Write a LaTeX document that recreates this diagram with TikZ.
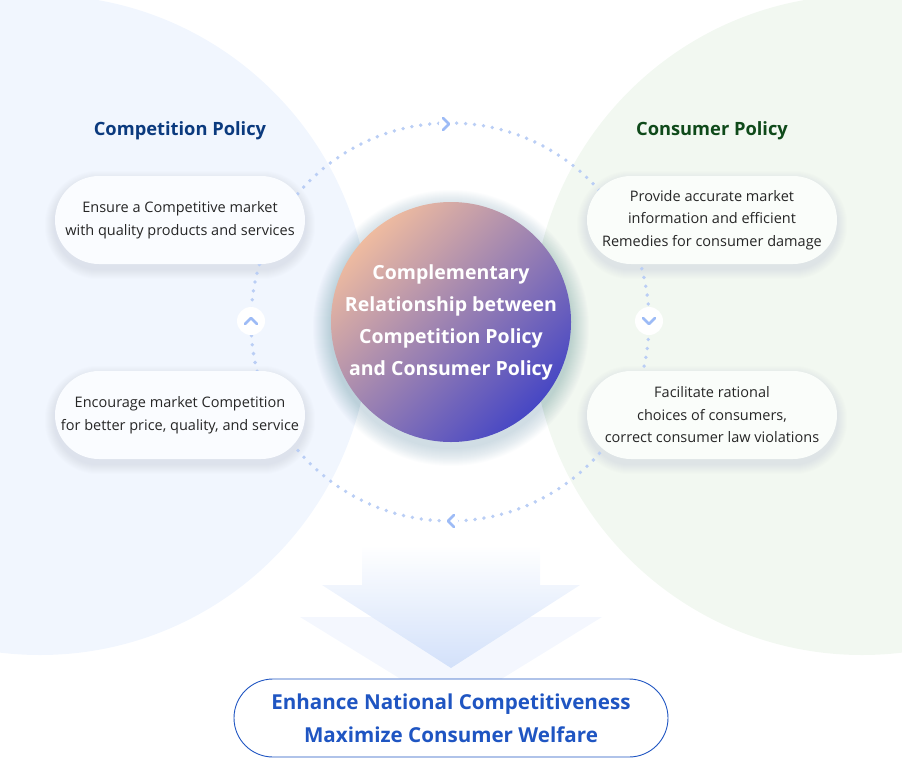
\documentclass[tikz,border=0pt]{standalone}
\usepackage{fontspec}
\setmainfont{Open Sans}
\usepackage{tikz}
\usetikzlibrary{positioning,calc}
\definecolor{leftbg}{HTML}{F1F6FE}
\definecolor{rightbg}{HTML}{F2F8F1}
\definecolor{navy}{HTML}{0B3A7E}
\definecolor{forest}{HTML}{0F4A1A}
\definecolor{dotblue}{HTML}{BACEF5}
\definecolor{chev}{HTML}{9DBBF6}
\definecolor{salmon}{HTML}{EEBBA0}
\definecolor{violet}{HTML}{8F78B8}
\definecolor{indigo}{HTML}{4747C4}
\definecolor{goalblue}{HTML}{1F55C2}
\definecolor{arrowblue}{HTML}{D3E1FA}
\definecolor{haze}{HTML}{5A6E9A}
\pgfdeclarelayer{back}
\pgfdeclarelayer{haze}
\pgfsetlayers{back,haze,main}
\tikzset{
  pill/.style={rectangle, rounded corners=44pt, fill=#1, minimum width=250pt,
    minimum height=88pt, align=center, text=black!85,
    font=\fontsize{14.5}{22.5}\selectfont},
  heading/.style={font=\fontsize{18.3}{22}\selectfont\bfseries},
  chevline/.style={draw=chev, line width=2.6pt, line cap=round, line join=round},
  knob/.style={circle, fill=white, minimum size=28pt, inner sep=0pt},
}
% soft shadow under a pill node
\newcommand{\pillhaze}[1]{%
  \foreach \i in {1,...,10}{
    \fill[haze, opacity=0.012, rounded corners=44pt+\i pt]
      ($(#1.south west)+(-\i,\i+5)$) rectangle ($(#1.north east)+(\i,-\i+5)$);
  }}
\begin{document}
\begin{tikzpicture}[x=1pt, y=-1pt]
  \useasboundingbox (0,0) rectangle (902,758);
  % ── background circles ────────────────────────────────────────────
  \begin{pgfonlayer}{back}
    \clip (0,0) rectangle (902,758);
    \fill[leftbg]  (40,325)  circle[radius=330pt];
    \fill[rightbg] (862,325) circle[radius=330pt];
  \end{pgfonlayer}
  % ── headings ──────────────────────────────────────────────────────
  \node[heading, text=navy]   (comp) at (180,131) {Competition Policy};
  \node[heading, text=forest] (cons) at (712,131) {Consumer Policy};
  % ── pills ─────────────────────────────────────────────────────────
  \node[pill=white!65!leftbg] (ensure) at (180,220)
    {Ensure a Competitive market\\with quality products and services};
  \node[pill=white!65!leftbg] (encourage) at (180,415)
    {Encourage market Competition\\for better price, quality, and service};
  \node[pill=white!65!rightbg] (provide) at (712,220)
    {Provide accurate market\\information and efficient\\Remedies for consumer damage};
  \node[pill=white!65!rightbg] (facilitate) at (712,415)
    {Facilitate rational\\choices of consumers,\\correct consumer law violations};
  % ── shadows and dotted cycle, behind the pills ────────────────────
  \begin{pgfonlayer}{haze}
    \pillhaze{ensure}
    \pillhaze{encourage}
    \pillhaze{provide}
    \pillhaze{facilitate}
    \draw[dotblue, line width=3.8pt, line cap=round, dash pattern=on 0pt off 9pt]
      (450,322) circle[radius=199pt];
  \end{pgfonlayer}
  % ── direction marks on the cycle ──────────────────────────────────
  \node[knob] (upknob) at (251,321) {};
  \node[knob] (downknob) at (649,321) {};
  \draw[chevline] ($(upknob)+(-6,3)$) -- ($(upknob)+(0,-3)$) -- ($(upknob)+(6,3)$);
  \draw[chevline] ($(downknob)+(-6,-3)$) -- ($(downknob)+(0,3)$) -- ($(downknob)+(6,-3)$);
  \coordinate (topmark) at (446,124);
  \coordinate (botmark) at (451,521);
  \fill[white] (topmark) circle[radius=7pt];
  \fill[white] (botmark) circle[radius=7pt];
  \draw[chevline] ($(topmark)+(-3,-6)$) -- ($(topmark)+(3,0)$) -- ($(topmark)+(-3,6)$);
  \draw[chevline] ($(botmark)+(3,-6)$) -- ($(botmark)+(-3,0)$) -- ($(botmark)+(3,6)$);
  % ── centre circle ─────────────────────────────────────────────────
  \foreach \r in {121,...,138}
    \fill[haze!70!teal, opacity=0.014] (451,328) circle[radius=\r pt];
  \shade[top color=salmon, middle color=violet, bottom color=indigo, shading angle=45]
    (451,322) circle[radius=120pt];
  \node[align=center, text=white, font=\fontsize{19.5}{32}\selectfont\bfseries]
    (core) at (451,322)
    {Complementary\\Relationship between\\Competition Policy\\and Consumer Policy};
  % ── big arrow ─────────────────────────────────────────────────────
  \fill[arrowblue, opacity=0.25] (300,617) -- (602,617) -- (451,710) -- cycle;
  \shade[top color=white, bottom color=arrowblue]
    (362,545) -- (540,545) -- (540,585) -- (580,585) -- (451,668)
    -- (322,585) -- (362,585) -- cycle;
  % ── goal ──────────────────────────────────────────────────────────
  \node[draw=goalblue, line width=0.9pt, fill=white, rounded corners=39pt,
        minimum width=434pt, minimum height=78pt, align=center, text=goalblue,
        font=\fontsize{20.6}{33}\selectfont\bfseries] (goal) at (451,718)
    {Enhance National Competitiveness\\Maximize Consumer Welfare};
\end{tikzpicture}
\end{document}
